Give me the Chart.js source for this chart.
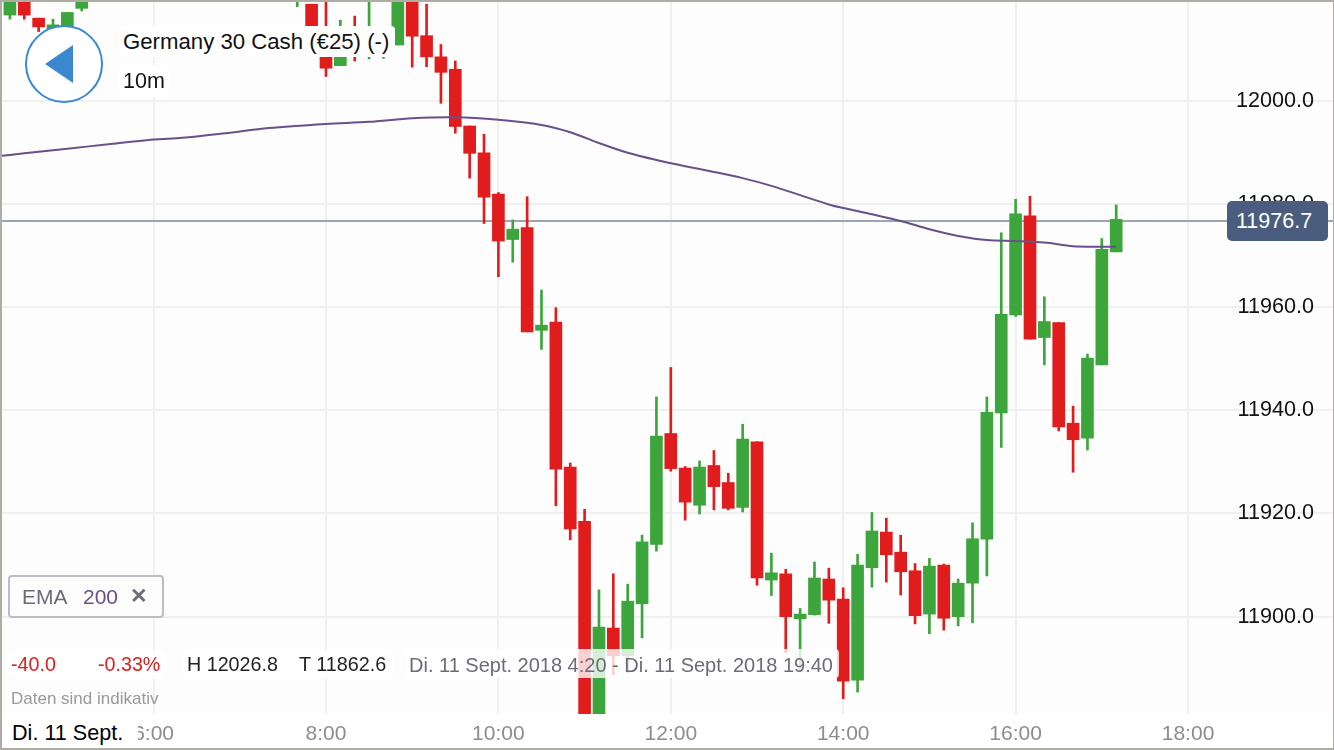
<!DOCTYPE html>
<html>
<head>
<meta charset="utf-8">
<title>Germany 30 Cash</title>
<script src="https://cdn.jsdelivr.net/npm/chart.js@4"></script>
<style>
  html, body { margin: 0; padding: 0; background: #fff; }
  body { font-family: "Liberation Sans", sans-serif; }
  #wrap { position: relative; width: 1334px; height: 750px; overflow: hidden; }
  #plotBg { position: absolute; left: 2px; top: 2px; width: 1331px; height: 712px; background: #fdfdfd; }
  #priceChart { position: absolute; left: 0; top: 0; }
  #frame { position: absolute; left: 0; top: 0; width: 1334px; height: 750px; box-sizing: border-box;
    border: 2px solid #adada5; border-right-width: 1px; pointer-events: none; }
  .lbl { position: absolute; white-space: nowrap; line-height: 1; }
  .box { background: #fff; border-radius: 4px; }
  .soft { background: rgba(255,255,255,.8); border-radius: 4px; }
  #back { position: absolute; left: 25px; top: 25px; width: 78px; height: 78px; box-sizing: border-box;
    border: 2.5px solid #3a88cf; border-radius: 50%; background: #fff; }
  #backArrow { position: absolute; left: 45px; top: 45px; width: 0; height: 0;
    border-top: 19px solid transparent; border-bottom: 19px solid transparent; border-right: 28px solid #3a88cf; }
  #emaBox { position: absolute; left: 8px; top: 575px; width: 156px; height: 43px; box-sizing: border-box;
    background: #fdfdfd; border: 2px solid #bcbcc2; border-radius: 4px; }
  #badge { position: absolute; left: 1227px; top: 201px; width: 101px; height: 40px; box-sizing: border-box;
    padding-left: 9px; background: #4a5d7e; border-radius: 5px; color: #fff; font-size: 21.5px; line-height: 40px; }
</style>
</head>
<body>
<div id="wrap">
  <div id="plotBg"></div>
  <canvas id="priceChart" width="1334" height="750"></canvas>

  <div id="back"></div>
  <div id="backArrow"></div>
  <div class="lbl box" style="left:119px;top:26px;width:276px;height:31px;"></div>
  <div class="lbl box" style="left:119px;top:65px;width:50px;height:32px;"></div>
  <div class="lbl" style="left:123px;top:31px;font-size:22.2px;color:#111;">Germany 30 Cash (€25) (-)</div>
  <div class="lbl" style="left:123px;top:71px;font-size:21.5px;color:#111;">10m</div>

  <div id="emaBox"></div>
  <div class="lbl" style="left:22px;top:586px;font-size:21px;color:#6b6b79;">EMA</div>
  <div class="lbl" style="left:83px;top:586px;font-size:21px;color:#68508a;">200</div>
  <div class="lbl" style="left:130px;top:585px;font-size:21px;font-weight:bold;color:#6b6b79;">✕</div>

  <div class="lbl soft" style="left:9px;top:650px;width:158px;height:29px;"></div>
  <div class="lbl soft" style="left:183px;top:650px;width:210px;height:29px;"></div>
  <div class="lbl soft" style="left:405px;top:649px;width:434px;height:29px;"></div>
  <div class="lbl" style="left:11px;top:655px;font-size:19.7px;color:#d9211f;">-40.0</div>
  <div class="lbl" style="left:98px;top:655px;font-size:19.7px;color:#d9211f;">-0.33%</div>
  <div class="lbl" style="left:187px;top:655px;font-size:19.7px;color:#222;">H 12026.8</div>
  <div class="lbl" style="left:299px;top:655px;font-size:19.8px;color:#222;">T 11862.6</div>
  <div class="lbl" style="left:409px;top:655px;font-size:20px;color:#6b6b7b;">Di. 11 Sept. 2018 4:20 - Di. 11 Sept. 2018 19:40</div>
  <div class="lbl" style="left:11px;top:690px;font-size:17px;color:#999;">Daten sind indikativ</div>

  <div class="lbl box" style="left:2px;top:716px;width:136px;height:32px;border-radius:0;"></div>
  <div class="lbl" style="left:12px;top:722px;font-size:21.6px;color:#000;">Di. 11 Sept.</div>

  <div id="badge">11976.7</div>
  <div id="frame"></div>
</div>

<script>
const times = ['4:20','4:30','4:40','4:50','5:00','5:10','7:40','7:50','8:00','8:10','8:20','8:30','8:40','8:50',
  '9:00','9:10','9:20','9:30','9:40','9:50','10:00','10:10','10:20','10:30','10:40','10:50',
  '11:00','11:10','11:20','11:30','11:40','11:50','12:00','12:10','12:20','12:30','12:40','12:50',
  '13:00','13:10','13:20','13:30','13:40','13:50','14:00','14:10','14:20','14:30','14:40','14:50',
  '15:00','15:10','15:20','15:30','15:40','15:50','16:00','16:10','16:20','16:30','16:40','16:50','17:00','17:10'];
const opens = [12016.6,12021,12016.0,12013.9,12013.7,12017.9,12020,12018.7,12010.8,12006.8,12012,12010,12011,12010.8,
  12023,12012.6,12008.5,12006.1,11995.1,11989.9,11981.9,11973.1,11975.4,11955.5,11957.1,11929.0,
  11918.5,11875,11897.8,11892.4,11902.5,11914.0,11935.5,11928.8,11921.6,11929.3,11926.0,11921.2,
  11933.9,11907.1,11908.3,11899.6,11900.4,11907.3,11903.4,11887.7,11909.5,11916.4,11912.5,11908.9,
  11900.5,11910.0,11900.0,11906.5,11915.0,11939.5,11958.5,11977.7,11954.1,11957.0,11937.5,11934.6,11948.8,11970.7];
const closes = [12021,12016.6,12014.3,12014.7,12017.1,12022,12023,12012.7,12006.3,12009.8,12009,12014,12012,12021,
  12012.5,12008.5,12005.5,11995.0,11989.8,11981.3,11972.8,11975.1,11955.2,11956.5,11928.6,11917.0,
  11870,11898.0,11892.4,11903.0,11914.5,11935.0,11928.7,11922.2,11929.0,11925.2,11921.0,11934.4,
  11907.5,11908.5,11900.0,11900.5,11907.5,11903.2,11887.5,11910.0,11916.6,11912.0,11908.7,11900.2,
  11909.8,11899.7,11906.5,11915.1,11939.6,11958.6,11978.1,11953.8,11957.2,11936.8,11934.3,11950.1,11971.2,11977.0];
const highs = [12022,12022,12016.0,12015.8,12017.1,12023,12025,12018.7,12022,12015.6,12016.4,12021,12013.7,12024,
  12024,12018.7,12010.9,12007.7,11995.1,11993.5,11982.2,11976.9,11981.4,11963.3,11959.9,11929.8,
  11920.8,11905.2,11908.3,11906.3,11915.8,11942.6,11948.3,11929.1,11930.2,11932.2,11927.8,11937.3,
  11933.9,11912.3,11909.2,11901.6,11910.6,11909.4,11905.6,11912.1,11920.2,11919.1,11915.8,11910.3,
  11911.3,11910.2,11907.3,11918.2,11942.6,11974.4,11980.9,11981.5,11962.0,11957.0,11940.8,11950.9,11973.3,11979.8];
const lows = [12015.8,12015.8,12013.4,12013.5,12013,12017.4,12018.2,12012,12004.7,12006.8,12007.7,12008.1,12008.2,12010.8,
  12006.5,12006.6,11999.5,11993.7,11985.0,11976.2,11965.9,11968.7,11955.2,11951.8,11921.5,11914.9,
  11868,11870,11888.7,11889.1,11895.9,11912.7,11928.2,11918.7,11919.9,11920.7,11920.7,11920.3,
  11906.1,11904.1,11893.0,11889.3,11900.3,11898.7,11884.1,11885.4,11905.7,11906.7,11904.2,11898.6,
  11896.7,11897.4,11898.2,11898.8,11907.9,11932.8,11958.2,11953.8,11948.8,11936.0,11928.0,11932.3,11948.8,11970.7];

const emaTimes = ['4:10','4:30','5:00','5:30','6:00','6:20','6:50','7:20','8:00','8:30','9:00','9:30','10:00','10:30','10:50',
  '11:10','11:30','11:50','12:10','12:30','12:50','13:10','13:30','13:50','14:00','14:20','14:40',
  '15:00','15:20','15:40','16:00','16:20','16:40','17:00','17:10'];
const emaValues = [11989.2,11989.8,11990.7,11991.6,11992.5,11992.8,11993.7,11994.7,11995.5,11995.9,11996.6,11996.8,11996.3,11995.3,11993.9,
  11991.8,11989.9,11988.5,11987.3,11986.2,11985.0,11983.5,11981.7,11979.9,11979.2,11978.0,11976.7,
  11975.1,11973.8,11973.0,11972.8,11972.5,11971.8,11971.7,11971.7];

const lastPrice = 11976.7;
const yTickStep = 20;
const xTickStep = 120;

const upColor = '#3ca53c';
const downColor = '#e11c1c';

function toMinutes(t) {
  const p = t.split(':');
  return Number(p[0]) * 60 + Number(p[1]);
}

function toLabel(m) {
  return Math.floor(m / 60) + ':' + String(m % 60).padStart(2, '0');
}

const candleColors = times.map((t, i) => closes[i] >= opens[i] ? upColor : downColor);
const xMin = 254.5;
const xMax = 1180.9;

new Chart(document.getElementById('priceChart').getContext('2d'), {
  type: 'bar',
  data: {
    datasets: [
      {
        type: 'line',
        label: 'EMA 200',
        data: emaTimes.map((t, i) => ({ x: toMinutes(t), y: emaValues[i] })),
        borderColor: '#68508a',
        borderWidth: 2,
        pointRadius: 0,
        tension: 0.3,
        order: 0
      },
      {
        label: 'Body',
        data: times.map((t, i) => ({ x: toMinutes(t), y: [opens[i], closes[i]] })),
        backgroundColor: candleColors,
        barThickness: 12,
        grouped: false,
        order: 1
      },
      {
        label: 'Wick',
        data: times.map((t, i) => ({ x: toMinutes(t), y: [lows[i], highs[i]] })),
        backgroundColor: candleColors,
        barThickness: 2,
        grouped: false,
        order: 2
      },
      {
        type: 'line',
        label: 'Last',
        data: [{ x: xMin, y: lastPrice }, { x: xMax, y: lastPrice }],
        borderColor: '#9aa6b8',
        borderWidth: 2,
        pointRadius: 0,
        order: 3
      }
    ]
  },
  options: {
    responsive: false,
    animation: false,
    layout: { padding: { left: 2, top: 2, right: 1, bottom: 2 } },
    plugins: { legend: { display: false }, tooltip: { enabled: false } },
    scales: {
      x: {
        type: 'linear',
        offset: false,
        min: xMin,
        max: xMax,
        grid: { color: '#f0f0f0', lineWidth: 2, drawTicks: false, offset: false },
        border: { display: false },
        ticks: {
          stepSize: xTickStep,
          includeBounds: false,
          autoSkip: false,
          maxRotation: 0,
          padding: 8,
          color: '#8d8d8d',
          font: { family: 'Liberation Sans', size: 21 },
          callback: v => toLabel(v)
        },
        afterFit(s) {
          s.height = 34;
          s.paddingLeft = 0;
          s.paddingRight = 0;
        }
      },
      y: {
        position: 'right',
        min: 11881.14,
        max: 12019.13,
        grid: { color: '#f0f0f0', lineWidth: 2, drawTicks: false },
        border: { display: false },
        ticks: {
          stepSize: yTickStep,
          includeBounds: false,
          mirror: true,
          padding: -19,
          color: '#111',
          font: { family: 'Liberation Sans', size: 21.6 },
          callback: v => v.toFixed(1)
        },
        afterFit(s) {
          s.width = 0;
          s.paddingTop = 0;
          s.paddingBottom = 0;
        }
      }
    }
  }
});
</script>
</body>
</html>
